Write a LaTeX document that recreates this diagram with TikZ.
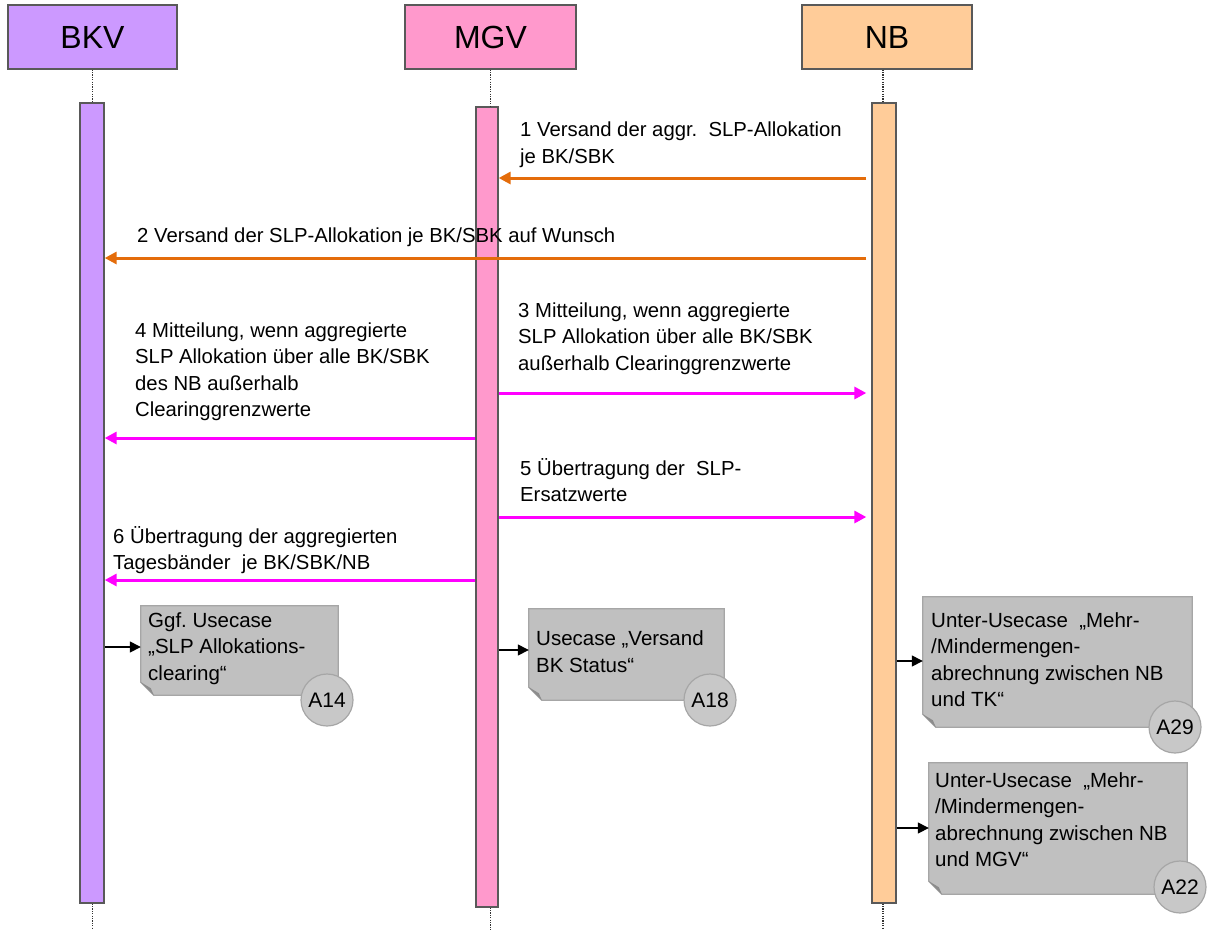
\documentclass[tikz,border=0pt]{standalone}
\usepackage{fontspec}
\setmainfont{Liberation Sans}
\usetikzlibrary{arrows.meta,backgrounds,shapes.geometric}
\frenchspacing
\definecolor{bkvc}{HTML}{CC99FF}
\definecolor{mgvc}{HTML}{FF99CC}
\definecolor{nbc}{HTML}{FFCC99}
\definecolor{edgec}{HTML}{595959}
\definecolor{orangec}{HTML}{E46C0A}
\definecolor{magc}{HTML}{FF00FF}
\definecolor{notefill}{HTML}{C0C0C0}
\definecolor{noteedge}{HTML}{A6A6A6}
\definecolor{folddark}{HTML}{8C8C8C}
\definecolor{badgefill}{HTML}{C8C8C8}
\tikzset{
  head/.style={draw=edgec, line width=1.3pt, rectangle, inner sep=0pt, minimum height=64pt,
    font=\fontsize{32}{36}\selectfont},
  actbar/.style={draw=edgec, line width=1.3pt, rectangle, inner sep=0pt, minimum height=800pt},
  life/.style={line width=1.6pt, black!80, dash pattern=on 1.2pt off 1.2pt},
  msgorange/.style={draw=orangec, line width=3pt, -{Triangle[length=12pt,width=12pt]}},
  msgmag/.style={draw=magc, line width=3pt, -{Triangle[length=12pt,width=12pt]}},
  lbl/.style={align=left, inner sep=0pt, anchor=base west, font=\fontsize{20.3}{26.5}\selectfont},
  noteshape/.style={rectangle, inner sep=0pt, draw=none},
  notetext/.style={align=left, inner sep=0pt, anchor=base west, font=\fontsize{20.5}{26.5}\selectfont},
  badge/.style={circle, draw=noteedge, line width=1.2pt, fill=badgefill, minimum size=52pt, inner sep=0pt,
    font=\fontsize{21}{24}\selectfont},
  notearrow/.style={draw=black, line width=1.5pt, -{Triangle[length=11pt,width=11pt]}},
}
\begin{document}
\begin{tikzpicture}[x=1pt,y=-1pt]
\useasboundingbox (0,0) rectangle (1208,930);
\coordinate (bottom) at (0,930);
% headers
\node[head, fill=bkvc, minimum width=169pt] (bkv) at (92.5,37) {BKV};
\node[head, fill=mgvc, minimum width=171pt] (mgv) at (490.5,37) {MGV};
\node[head, fill=nbc, minimum width=170pt] (nb) at (887,37) {NB};
% activation bars
\node[actbar, fill=bkvc, minimum width=24pt] (bkvbar) at (92,503) {};
\node[actbar, fill=mgvc, minimum width=22pt] (mgvbar) at (487,507) {};
\node[actbar, fill=nbc, minimum width=24pt] (nbbar) at (884,503) {};
% lifelines
\draw[life] (bkv.south) -- (bkv.south |- bkvbar.north);
\draw[life] (bkv.south |- bkvbar.south) -- (bkv.south |- bottom);
\draw[life] (mgv.south) -- (mgv.south |- mgvbar.north);
\draw[life] (mgv.south |- mgvbar.south) -- (mgv.south |- bottom);
\draw[life] ([xshift=-4pt]nb.south) -- ([xshift=-4pt]nb.south |- nbbar.north);
\draw[life] ([xshift=-4pt]nb.south |- nbbar.south) -- ([xshift=-4pt]nb.south |- bottom);
% helper coordinates
\path (nbbar.west) ++(-5pt,0) coordinate (nbl);
% messages (label anchors at the baseline of the last line)
\draw[msgorange] (nbl |- 0,178) -- (mgvbar.east |- 0,178);
\node[lbl] (l1) at (520,163) {1 Versand der aggr.\ \ SLP-Allokation\\je BK/SBK};
\draw[msgorange] (nbl |- 0,258) -- (bkvbar.east |- 0,258);
\node[lbl] (l2) at (137,242) {2 Versand der SLP-Allokation je BK/SBK auf Wunsch};
\draw[msgmag] (mgvbar.east |- 0,393) -- (nbl |- 0,393);
\node[lbl] (l3) at (518,370) {3 Mitteilung, wenn aggregierte\\SLP Allokation über alle BK/SBK\\außerhalb Clearinggrenzwerte};
\draw[msgmag] (mgvbar.west |- 0,438) -- (bkvbar.east |- 0,438);
\node[lbl] (l4) at (135,416.5) {4 Mitteilung, wenn aggregierte\\SLP Allokation über alle BK/SBK\\des NB außerhalb\\Clearinggrenzwerte};
\draw[msgmag] (mgvbar.east |- 0,517) -- (nbl |- 0,517);
\node[lbl] (l5) at (520,501.5) {5 Übertragung der\ \ SLP-\\Ersatzwerte};
\draw[msgmag] (mgvbar.west |- 0,580) -- (bkvbar.east |- 0,580);
\node[lbl] (l6) at (113,569.5) {6 Übertragung der aggregierten\\Tagesbänder\ \ je BK/SBK/NB};
% notes
\node[noteshape, minimum width=197pt, minimum height=89pt] (n14) at (239.5,650.5) {};
\node[noteshape, minimum width=195pt, minimum height=91pt] (n18) at (626.5,654.5) {};
\node[noteshape, minimum width=269pt, minimum height=130pt] (n29) at (1057.5,662) {};
\node[noteshape, minimum width=258pt, minimum height=131pt] (n22) at (1058,828.5) {};
\begin{scope}[on background layer]
\foreach \n in {n14,n18,n29,n22}{
  \draw[fill=notefill, draw=noteedge, line width=1.2pt]
    (\n.north west) -- (\n.north east) -- (\n.south east) -- ([xshift=13pt]\n.south west)
    -- ([yshift=13pt]\n.south west) -- cycle;
  \fill[folddark] ([xshift=13pt]\n.south west) -- ([yshift=13pt]\n.south west)
    -- ([xshift=10pt,yshift=7pt]\n.south west) -- cycle;
}
\end{scope}
\node[notetext] (t14) at (148,680) {Ggf. Usecase\\„SLP Allokations-\\clearing“};
\node[notetext] (t18) at (536,672) {Usecase „Versand\\BK Status“};
\node[notetext] (t29) at (931,706.5) {Unter-Usecase\ \ „Mehr-\\/Mindermengen-\\abrechnung zwischen NB\\und TK“};
\node[notetext] (t22) at (935,866.5) {Unter-Usecase\ \ „Mehr-\\/Mindermengen-\\abrechnung zwischen NB\\und MGV“};
\node[badge] (c14) at (327,700) {A14};
\node[badge] (c18) at (710,700) {A18};
\node[badge] (c29) at (1175,727) {A29};
\node[badge] (c22) at (1180,887) {A22};
% note arrows
\draw[notearrow] (bkvbar.east |- 0,647) -- (n14.west |- 0,647);
\draw[notearrow] (mgvbar.east |- 0,650) -- (n18.west |- 0,650);
\draw[notearrow] (nbbar.east |- 0,661) -- (n29.west |- 0,661);
\draw[notearrow] (nbbar.east |- 0,828) -- (n22.west |- 0,828);
\end{tikzpicture}
\end{document}
